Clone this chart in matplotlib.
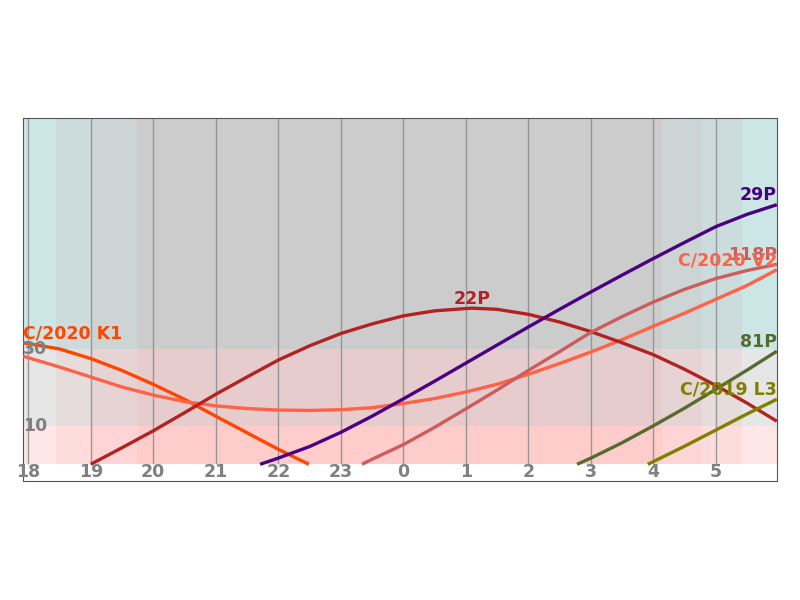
import matplotlib
matplotlib.use("Agg")
import matplotlib.pyplot as plt

# hours after 18:00 keep counting past midnight (24 = 0h, 29 = 5h)
hour_ticks = [18, 19, 20, 21, 22, 23, 24, 25, 26, 27, 28, 29]
hour_labels = ["18", "19", "20", "21", "22", "23", "0", "1", "2", "3", "4", "5"]

# twilight band edges (hours) and altitude limits
sky_edges = [17.92, 18.45, 19.02, 19.74, 28.14, 28.78, 29.42, 29.975]
alt_limits = [0, 10, 30, 90]

# comet altitudes
names = ["C/2020 K1", "C/2020 V2", "22P", "29P", "118P", "81P", "C/2019 L3"]

k1_t = [17.92, 18.5, 19, 19.5, 20, 20.5, 21, 21.5, 22, 22.49]
k1_alt = [31.6, 30.0, 27.5, 24.4, 20.8, 16.9, 12.5, 8.2, 3.9, 0]

v2_t = [17.92, 18.5, 19, 19.5, 20, 20.5, 21, 21.5, 22, 22.5, 23, 23.5, 24, 24.5, 25,
        25.5, 26, 26.5, 27, 27.5, 28, 28.5, 29, 29.5, 29.975]
v2_alt = [28.1, 25.3, 22.7, 20.1, 18.0, 16.3, 15.2, 14.5, 14.1, 14.0, 14.2, 14.7, 15.8,
          17.1, 18.8, 20.8, 23.4, 26.2, 29.2, 32.4, 35.9, 39.3, 42.9, 46.5, 50.6]

p22_t = [19, 19.5, 20, 20.5, 21, 21.5, 22, 22.5, 23, 23.5, 24, 24.5, 25, 25.1, 25.5,
         26, 26.5, 27, 27.5, 28, 28.5, 29, 29.5, 29.975]
p22_alt = [0, 4.3, 8.7, 13.4, 18.2, 22.7, 27.1, 30.8, 34.0, 36.5, 38.6, 39.9, 40.5, 40.6,
           40.3, 39.0, 37.0, 34.5, 31.6, 28.5, 24.7, 20.5, 15.9, 11.2]

p29_t = [21.71, 22, 22.5, 23, 23.5, 24, 24.5, 25, 25.5, 26, 26.5, 27, 27.5, 28, 28.5,
         29, 29.5, 29.975]
p29_alt = [0, 1.6, 4.6, 8.3, 12.5, 17.0, 21.6, 26.3, 31.0, 35.7, 40.3, 44.8, 49.2, 53.5,
           57.7, 61.8, 65.0, 67.5]

p118_t = [23.34, 23.5, 24, 24.5, 25, 25.5, 26, 26.5, 27, 27.5, 28, 28.5, 29, 29.5, 29.975]
p118_alt = [0, 1.3, 5.1, 9.6, 14.4, 19.3, 24.4, 29.3, 34.3, 38.4, 42.2, 45.5, 48.3, 50.4, 52.0]

p81_t = [26.78, 27, 27.5, 28, 28.5, 29, 29.5, 29.975]
p81_alt = [0, 1.6, 5.6, 10.0, 14.6, 19.5, 24.5, 29.4]

l3_t = [27.91, 28, 28.5, 29, 29.5, 29.975]
l3_alt = [0, 0.7, 4.7, 8.9, 13.1, 16.9]

series = [(k1_t, k1_alt), (v2_t, v2_alt), (p22_t, p22_alt), (p29_t, p29_alt),
          (p118_t, p118_alt), (p81_t, p81_alt), (l3_t, l3_alt)]
colors = ["#ff4500", "#ff6347", "#b22222", "#4b0082", "#cd5c5c", "#556b2f", "#808000"]
label_z = [6, 8, 6, 6, 7, 6, 6]

# sky shade per band (green/blue level) and red level per altitude zone
sky_gb = [230, 220, 212, 204, 212, 220, 230]
zone_r = [255, 230, 204]

fig = plt.figure(figsize=(8, 6), dpi=100)
ax = fig.add_axes([0.029, 0.198, 0.942, 0.605])

for i in range(len(sky_gb)):
    for j in range(len(zone_r)):
        c = (zone_r[j] / 255, sky_gb[i] / 255, sky_gb[i] / 255)
        ax.fill_between([sky_edges[i], sky_edges[i + 1]], alt_limits[j], alt_limits[j + 1],
                        color=c, lw=0, zorder=0)

ax.vlines(hour_ticks, 0, 90, color="#969696", lw=1, zorder=1)

for (t, alt), name, col, lz in zip(series, names, colors, label_z):
    ax.plot(t, alt, color=col, lw=2.4, solid_capstyle="butt", solid_joinstyle="round", zorder=3)
    k = alt.index(max(alt))
    if k == 0:
        ha, x = "left", sky_edges[0]
    elif k == len(alt) - 1:
        ha, x = "right", sky_edges[-1]
    else:
        ha, x = "center", t[k]
    ax.text(x, alt[k] + 0.1, name, color=col, ha=ha, va="bottom",
            fontsize=12.5, fontweight="bold", zorder=lz)

for h, lab in zip(hour_ticks, hour_labels):
    ax.text(h, -2, lab, color="grey", ha="center", va="center",
            fontsize=12.5, fontweight="bold", zorder=5)
for a in [30, 10]:
    ax.text(sky_edges[0], a, str(a), color="grey", ha="left", va="center",
            fontsize=12.5, fontweight="bold", zorder=5)

ax.set_xlim(sky_edges[0], sky_edges[-1])
ax.set_ylim(-4.4, 90)
ax.set_xticks([])
ax.set_yticks([])
for s in ax.spines.values():
    s.set_color("#555555")

fig.savefig("out.png", dpi=100)
